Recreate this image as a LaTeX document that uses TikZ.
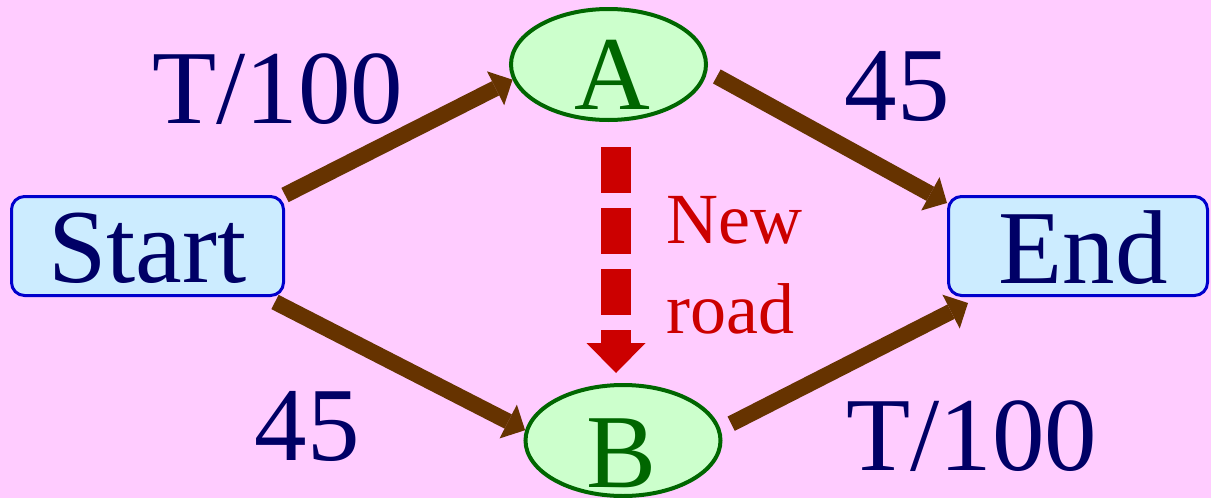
\documentclass[tikz,border=0pt]{standalone}
\usepackage{fontspec}
\setmainfont{Liberation Serif}
\newfontfamily\timesfont{Liberation Serif}
\usetikzlibrary{arrows.meta,shapes.geometric}

\definecolor{bgpink}{HTML}{FFCCFF}
\definecolor{boxfill}{HTML}{CCECFF}
\definecolor{boxline}{HTML}{0000CC}
\definecolor{nodefill}{HTML}{CCFFCC}
\definecolor{nodeline}{HTML}{006600}
\definecolor{navy}{HTML}{000066}
\definecolor{road}{HTML}{663300}
\definecolor{newred}{HTML}{CC0000}

\tikzset{
  endbox/.style={draw=boxline, fill=boxfill, line width=3pt, rounded corners=13pt,
    minimum width=#1, minimum height=99pt, inner sep=0pt},
  town/.style={ellipse, draw=nodeline, fill=nodefill, line width=4pt,
    minimum width=195pt, minimum height=111pt, inner sep=0pt},
  bigtext/.style={anchor=base, inner sep=0pt, font=\timesfont\fontsize{105}{110}\selectfont},
  boxtext/.style={bigtext, text=navy},
  towntext/.style={bigtext, text=nodeline},
  costtext/.style={bigtext, text=navy},
  newtext/.style={anchor=base west, inner sep=0pt, text=newred,
    font=\timesfont\fontsize{72}{86}\selectfont},
  route/.style={draw=road, line width=16pt, line cap=butt,
    -{Triangle[length=19pt, width=38pt, line width=0pt]}},
  newroute/.style={draw=newred, line width=30pt, line cap=butt,
    dash pattern=on 46pt off 15pt,
    -{Triangle[length=30pt, width=59pt, line width=0pt]}}
}

\begin{document}
\begin{tikzpicture}[x=1pt, y=-1pt]
  % page background
  \fill[bgpink] (0,0) rectangle (1211,498);
  \useasboundingbox (0,0) rectangle (1211,498);

  % start, end and the two towns
  \node[endbox=272pt] (Start) at (147.5,246) {};
  \node[endbox=259pt] (End) at (1078,246) {};
  \node[town] (A) at (608.5,64.5) {};
  \node[town] (B) at (623,440.5) {};

  \node[boxtext] (startlbl) at (147.5,282) {Start};
  \node[boxtext] (endlbl) at (1083,283) {End};
  \node[towntext] (alabel) at (612.5,109) {A};
  \node[towntext] (blabel) at (622,487) {B};

  % travel times
  \node[costtext] (c1) at (278,123) {T/100};
  \node[costtext] (c2) at (897,120) {45};
  \node[costtext] (c3) at (307,460) {45};
  \node[costtext] (c4) at (972,470) {T/100};

  % the four roads
  \draw[route] (Start.north east) -- (A.189);
  \draw[route] ([xshift=11pt]A.-7) -- ([yshift=-8pt]End.north west);
  \draw[route] ([shift={(-10pt,-5pt)}]Start.south east) -- (B.174);
  \draw[route] ([xshift=13pt]B.10) -- ([shift={(21pt,-6pt)}]End.south west);

  % the new road from A to B
  \draw[newroute] ([shift={(7.5pt,-25pt)}]A.south) -- ([shift={(-7pt,10pt)}]B.north);
  \node[newtext] (newlbl) at (666,243) {New};
  \node[newtext] (roadlbl) at (666,333) {road};
\end{tikzpicture}
\end{document}
